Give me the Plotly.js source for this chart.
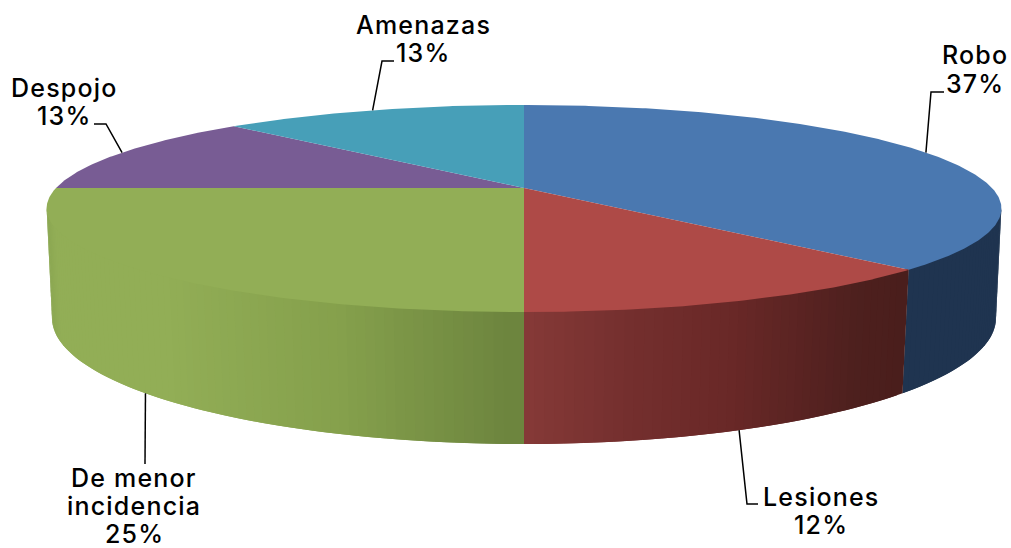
<!DOCTYPE html>
<html>
<head>
<meta charset="utf-8">
<script src="https://cdn.plot.ly/plotly-3.0.1.min.js"></script>
<style>html,body{margin:0;padding:0;background:#fff}#chart{width:1011px;height:548px}
.annotation-text{letter-spacing:1.2px}</style>
</head>
<body>
<div id="chart"></div>
<script>
var categories = ["Robo", "Lesiones", "De menor incidencia", "Despojo", "Amenazas"];
var values = [37.5, 12.5, 25, 12.5, 12.5];
var percentLabels = ["37%", "12%", "25%", "13%", "13%"];
var topColors = ["#4a78b0", "#ae4a47", "#92ae56", "#785c94", "#479fb8"];

// Perspective projection of the pie's top rim and bottom rim (pixel-like axes)
var topRim = {cx: 524, cy: 188, a: 468, b: 99.5, k: 0.198};
var botRim = {cx: 524, cy: 294, a: 463.4, b: 121.5, k: 0.19};

// Side-wall shading: [x, colour] stops per slice
var wallStops = [
  [[0, "#1f3450"], [1100, "#1f3450"]],
  [[524, "#873a38"], [640, "#742f2e"], [740, "#692827"], [860, "#4e201e"], [905, "#4a1e1c"]],
  [[46, "#88a450"], [60, "#92ae56"], [170, "#92ae56"], [350, "#85a04c"], [524, "#6c843e"]],
  null, null
];

// Label placement: text lines with centre positions; elbows of leader lines
var labelLines = [
  [["Robo", 975, 55], ["37%", 975, 84]],
  [["Lesiones", 821, 497], ["12%", 821, 525]],
  [["De menor", 134, 477.5], ["incidencia", 134, 506], ["25%", 134, 534]],
  [["Despojo", 64, 88], ["13%", 64, 116]],
  [["Amenazas", 423, 25], ["13%", 423, 53]]
];
var leaderElbows = [
  [[931, 92], [944, 92]],
  [[747, 504], [758, 504]],
  [[145, 464]],
  [[106, 124], [94, 124]],
  [[382, 61], [394, 61]]
];
var leaderOnBottomRim = [false, true, true, false, false];

function project(r, deg) {
  var t = deg * Math.PI / 180, X = Math.sin(t), Y = Math.cos(t), d = 1 + r.k * Y;
  return [r.cx + r.a * X / d, r.cy - r.b * Y / d];
}
function tuck(p) { return [p[0], p[1] - 2]; }   // slide the wall's upper edge under the top face
function hex(c) { return [1, 3, 5].map(function (i) { return parseInt(c.substr(i, 2), 16); }); }
function shade(stops, x) {
  if (x <= stops[0][0]) return stops[0][1];
  for (var i = 1; i < stops.length; i++) {
    if (x <= stops[i][0]) {
      var f = (x - stops[i - 1][0]) / (stops[i][0] - stops[i - 1][0]);
      var p = hex(stops[i - 1][1]), q = hex(stops[i][1]);
      return "rgb(" + [0, 1, 2].map(function (j) { return Math.round(p[j] + (q[j] - p[j]) * f); }).join(",") + ")";
    }
  }
  return stops[stops.length - 1][1];
}
function polygon(pts, color) {
  return {
    type: "scatter", mode: "lines", hoverinfo: "skip", showlegend: false,
    x: pts.map(function (p) { return p[0]; }), y: pts.map(function (p) { return p[1]; }),
    fill: "toself", fillcolor: color, line: {width: 0, color: color}
  };
}

var total = values.reduce(function (s, v) { return s + v; }, 0);
var angles = [0];
values.forEach(function (v, i) { angles.push(angles[i] + v / total * 360); });

var traces = [];
var step = 1;
// side walls, only the part facing the viewer (from rim tangent to rim tangent)
values.forEach(function (v, i) {
  var stops = wallStops[i];
  if (!stops) return;
  var from = Math.max(angles[i], 101), to = Math.min(angles[i + 1], 259);
  var strips = [];
  for (var a = from; a < to; a += step) strips.push(a);
  strips.reverse().forEach(function (a) {
    var end = Math.min(a + 2 * step, to), mid = Math.min(a + step, to);
    var xm = (project(topRim, (a + mid) / 2)[0] + project(botRim, (a + mid) / 2)[0]) / 2;
    var pts = [];
    for (var t = a; t < end; t += 0.5) pts.push(tuck(project(topRim, t)));
    pts.push(tuck(project(topRim, end)));
    pts.push(project(botRim, end));
    for (t = end - 0.5; t > a; t -= 0.5) pts.push(project(botRim, t));
    pts.push(project(botRim, a));
    traces.push(polygon(pts, shade(stops, xm)));
  });
});
// top face
values.forEach(function (v, i) {
  var pts = [[topRim.cx, topRim.cy]];
  for (var t = angles[i]; t < angles[i + 1]; t += 0.5) pts.push(project(topRim, t));
  pts.push(project(topRim, angles[i + 1]));
  traces.push(polygon(pts, topColors[i]));
});
// leader lines, starting at each slice's mid-angle on the rim
values.forEach(function (v, i) {
  var mid = (angles[i] + angles[i + 1]) / 2;
  var pts = [project(leaderOnBottomRim[i] ? botRim : topRim, mid)].concat(leaderElbows[i]);
  traces.push({
    type: "scatter", mode: "lines", hoverinfo: "skip", showlegend: false,
    x: pts.map(function (p) { return p[0]; }), y: pts.map(function (p) { return p[1]; }),
    line: {color: "#000000", width: 1.5}
  });
});

var annotations = [];
labelLines.forEach(function (lines) {
  lines.forEach(function (l) {
    annotations.push({
      x: l[1], y: l[2], xref: "x", yref: "y", text: l[0], showarrow: false,
      xanchor: "center", yanchor: "middle",
      font: {family: "Inter, sans-serif", size: 25, weight: 500, color: "#000000"}
    });
  });
});

Plotly.newPlot("chart", traces, {
  width: 1011, height: 548,
  margin: {l: 0, r: 0, t: 0, b: 0},
  paper_bgcolor: "#ffffff", plot_bgcolor: "#ffffff",
  showlegend: false, hovermode: false,
  xaxis: {range: [0, 1011], visible: false, fixedrange: true},
  yaxis: {range: [548, 0], visible: false, fixedrange: true},
  annotations: annotations
}, {displayModeBar: false, staticPlot: true});
</script>
</body>
</html>
